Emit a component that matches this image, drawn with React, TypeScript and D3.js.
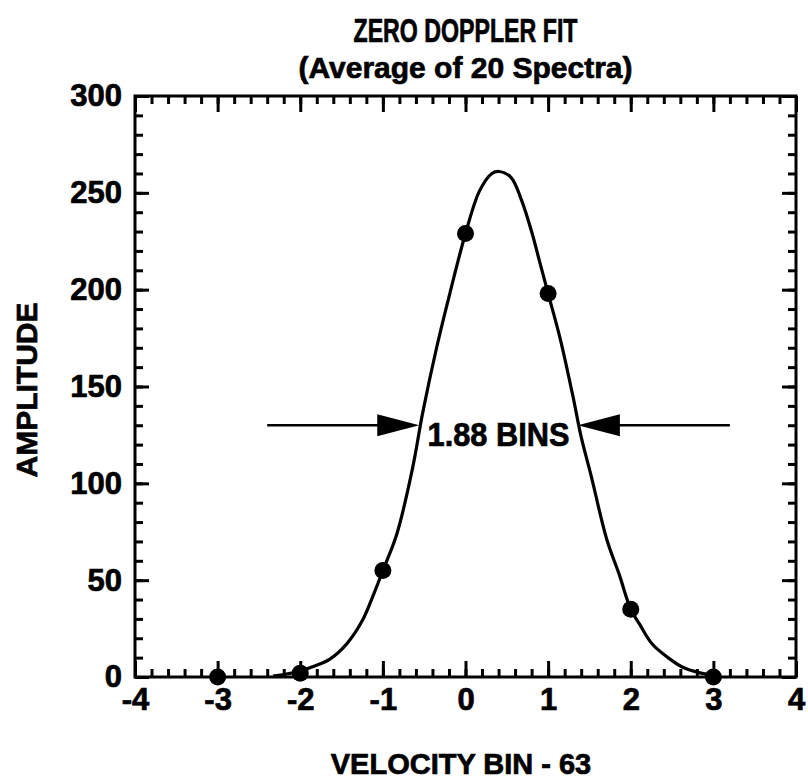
import React, { useEffect, useRef } from 'react';
import * as d3 from 'd3';

// axis ticks
const xTicks = [-4, -3, -2, -1, 0, 1, 2, 3, 4];
const yTicks = [0, 50, 100, 150, 200, 250, 300];

// measured spectrum (dots)
const bins = [-3, -2, -1, 0, 1, 2, 3];
const amplitudes = [0, 2, 55, 229, 198, 35, 0];

// fitted curve
const fitX = [-2.33, -2.0, -1.87, -1.65, -1.44, -1.25, -1.1, -1.0, -0.83, -0.64, -0.52, -0.35, -0.19, 0.0, 0.17, 0.32, 0.41, 0.55, 0.68, 0.8, 0.9, 1.0, 1.15, 1.3, 1.4, 1.52, 1.71, 1.86, 2.0, 2.11, 2.26, 2.45, 2.63, 2.85, 3.0];
const fitY = [0.5, 3, 5, 9, 17, 29, 44, 55, 74, 108, 136, 170, 198, 229, 251, 260, 261, 258, 246, 230, 214, 198, 174, 145, 124, 104, 71, 53, 35, 27, 17, 10, 5, 2, 1];

// width marker
const halfMax = 130;
const fwhmLeft = -0.56;
const fwhmRight = 1.36;
const arrowFrom = -2.4;
const arrowTo = 3.2;
const fwhmLabel = '1.88 BINS';

const FONT = '"Liberation Sans", Arial, Helvetica, sans-serif';

// bold text with a thin outline so it reads as heavy as the scan
const boldText = (sel: any, size: number) => sel
    .attr('font-family', FONT)
    .attr('font-weight', 'bold')
    .attr('font-size', size)
    .attr('fill', '#000')
    .attr('stroke', '#000')
    .attr('stroke-width', 0.7);

export default function App() {
    const ref = useRef<SVGSVGElement>(null);

    useEffect(() => {
        const svg = d3.select(ref.current);
        svg.selectAll('*').remove();

        const width = 808;
        const height = 780;
        const margin = { top: 96, right: 12, bottom: 103, left: 135 };
        const w = width - margin.left - margin.right;
        const h = height - margin.top - margin.bottom;

        const g = svg.append('g').attr('transform', `translate(${margin.left},${margin.top})`);

        const x = d3.scaleLinear().domain([-4, 4]).range([0, w]);
        const y = d3.scaleLinear().domain([0, 300]).range([h, 0]);

        const xMinor = d3.range(-4, 4.001, 0.2).map((v) => Math.round(v * 10) / 10);
        const yMinor = d3.range(0, 301, 10);

        const styleAxis = (sel: any) => {
            sel.select('.domain').remove();
            sel.selectAll('line').attr('stroke', '#000').attr('stroke-width', 3);
            sel.selectAll('text').call(boldText, 31);
        };

        // minor ticks on all four sides
        g.append('g').attr('transform', `translate(0,${h})`)
            .call(d3.axisBottom(x).tickValues(xMinor).tickSize(-8).tickFormat(() => ''))
            .call(styleAxis);
        g.append('g')
            .call(d3.axisTop(x).tickValues(xMinor).tickSize(-8).tickFormat(() => ''))
            .call(styleAxis);
        g.append('g')
            .call(d3.axisLeft(y).tickValues(yMinor).tickSize(-8).tickFormat(() => ''))
            .call(styleAxis);
        g.append('g').attr('transform', `translate(${w},0)`)
            .call(d3.axisRight(y).tickValues(yMinor).tickSize(-8).tickFormat(() => ''))
            .call(styleAxis);

        // major ticks + labels
        g.append('g').attr('transform', `translate(0,${h})`)
            .call(d3.axisBottom(x).tickValues(xTicks).tickSize(-16).tickPadding(11).tickFormat(d3.format('d')))
            .call(styleAxis);
        g.append('g')
            .call(d3.axisTop(x).tickValues(xTicks).tickSize(-16).tickFormat(() => ''))
            .call(styleAxis);
        g.append('g')
            .call(d3.axisLeft(y).tickValues(yTicks).tickSize(-14).tickPadding(13).tickFormat(d3.format('d')))
            .call(styleAxis);
        g.append('g').attr('transform', `translate(${w},0)`)
            .call(d3.axisRight(y).tickValues(yTicks).tickSize(-14).tickFormat(() => ''))
            .call(styleAxis);

        // d3 uses a unicode minus, the original uses a hyphen
        g.selectAll('text').each(function () {
            const t = d3.select(this);
            t.text(t.text().replace('\u2212', '-'));
        });

        // frame
        g.append('rect')
            .attr('width', w)
            .attr('height', h)
            .attr('fill', 'none')
            .attr('stroke', '#000')
            .attr('stroke-width', 3);

        // fit curve
        const line = d3.line<number>()
            .x((d, i) => x(fitX[i]))
            .y((d) => y(d))
            .curve(d3.curveCatmullRom);
        g.append('path')
            .datum(fitY)
            .attr('d', line)
            .attr('fill', 'none')
            .attr('stroke', '#000')
            .attr('stroke-width', 3.2)
            .attr('stroke-linejoin', 'round');

        // measured points
        g.selectAll('circle')
            .data(amplitudes)
            .enter()
            .append('circle')
            .attr('cx', (d, i) => x(bins[i]))
            .attr('cy', (d) => y(d))
            .attr('r', 8.5)
            .attr('fill', '#000');

        // FWHM arrows
        const ay = y(halfMax);
        const headLen = 42;
        const headHalf = 11;
        const lx = x(fwhmLeft);
        const rx = x(fwhmRight);
        g.append('line')
            .attr('x1', x(arrowFrom)).attr('x2', lx - headLen + 2)
            .attr('y1', ay).attr('y2', ay)
            .attr('stroke', '#000').attr('stroke-width', 2.5);
        g.append('path')
            .attr('d', `M${lx},${ay}L${lx - headLen},${ay - headHalf}L${lx - headLen},${ay + headHalf}Z`)
            .attr('fill', '#000');
        g.append('line')
            .attr('x1', rx + headLen - 2).attr('x2', x(arrowTo))
            .attr('y1', ay).attr('y2', ay)
            .attr('stroke', '#000').attr('stroke-width', 2.5);
        g.append('path')
            .attr('d', `M${rx},${ay}L${rx + headLen},${ay - headHalf}L${rx + headLen},${ay + headHalf}Z`)
            .attr('fill', '#000');

        // condensed, tall label as in the scan
        g.append('text')
            .attr('x', (lx + rx) / 2)
            .attr('y', ay + 21)
            .attr('text-anchor', 'middle')
            .call(boldText, 34)
            .attr('textLength', 142)
            .attr('lengthAdjust', 'spacingAndGlyphs')
            .text(fwhmLabel);

        // titles
        svg.append('text')
            .attr('x', margin.left + x(0))
            .attr('y', 42)
            .attr('text-anchor', 'middle')
            .call(boldText, 33)
            .attr('textLength', 224)
            .attr('lengthAdjust', 'spacingAndGlyphs')
            .text('ZERO DOPPLER FIT');
        svg.append('text')
            .attr('x', margin.left + x(0))
            .attr('y', 78)
            .attr('text-anchor', 'middle')
            .call(boldText, 30)
            .text('(Average of 20 Spectra)');

        svg.append('text')
            .attr('x', 461)
            .attr('y', 774)
            .attr('text-anchor', 'middle')
            .call(boldText, 29)
            .text('VELOCITY BIN - 63');

        svg.append('text')
            .attr('transform', `translate(37,390) rotate(-90)`)
            .attr('text-anchor', 'middle')
            .call(boldText, 30)
            .text('AMPLITUDE');
    }, []);

    return (
        <svg ref={ref} width={808} height={780}
             style={{ position: 'absolute', left: 0, top: 0, background: '#fff' }} />
    );
}
